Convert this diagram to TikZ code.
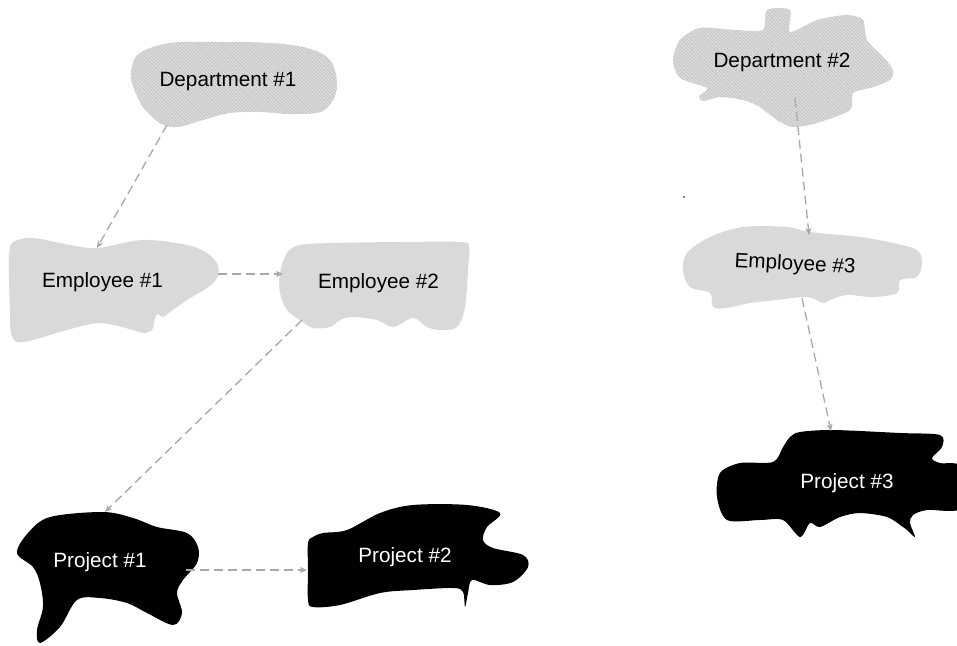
\documentclass[tikz,border=0pt]{standalone}
\usepackage{fontspec}
\setmainfont{Liberation Sans}
\usetikzlibrary{arrows.meta,patterns.meta}
\definecolor{hatchbg}{RGB}{222,222,222}
\definecolor{hatchln}{RGB}{196,196,196}
\definecolor{empgray}{RGB}{217,217,217}
\definecolor{conngray}{RGB}{168,168,168}
\tikzset{
  dept/.style={fill=hatchbg, postaction={pattern={Lines[angle=-45,distance=2.4pt,line width=0.9pt]}, pattern color=hatchln}},
  emp/.style={fill=empgray},
  proj/.style={fill=black},
  lbl/.style={font=\fontsize{20.7}{24}\selectfont, text=black, inner sep=0pt},
  wlbl/.style={lbl, text=white},
  conn/.style={draw=conngray, line width=1.3pt, dash pattern=on 9pt off 5pt, -{Stealth[length=7pt,width=6pt,inset=2pt]}},
}
\begin{document}
\begin{tikzpicture}[x=1pt,y=-1pt]
\useasboundingbox (0,0) rectangle (957,645);
\clip (0,0) rectangle (957,645);

% Department #1
\path[dept] plot[smooth cycle, tension=0.6] coordinates {
 (140,53) (170,43) (220,42) (270,43) (307,48) (330,60) (337,83) (333,100)
 (320,112) (290,114) (260,112) (230,113) (203,120) (177,127) (160,123)
 (143,107) (132,83) (132,67)};
\node[lbl] (d1) at (228,82) {Department \#1};

% Employee #1
\path[emp] plot[smooth cycle, tension=0.55] coordinates {
 (13,242) (33,238) (65,244) (97,248) (143,240) (187,245) (207,253) (218,265)
 (217,278) (207,288) (187,300) (170,312) (163,317) (158,314) (155,318)
 (152,330) (143,333) (133,330) (100,323) (67,330) (33,340) (17,342)
 (11,333) (10,313) (9,280) (9,255)};
\node[lbl] (e1) at (102.5,282) {Employee \#1};

% Employee #2
\path[emp] plot[smooth cycle, tension=0.55] coordinates {
 (287,253) (300,245) (333,243) (400,242) (460,242) (469,247) (468,270)
 (465,307) (457,327) (440,330) (427,327) (413,318) (393,327) (377,320)
 (353,317) (340,320) (330,327) (313,328) (300,320) (287,310) (280,293)
 (280,273)};
\node[lbl] (e2) at (378.5,283) {Employee \#2};

% Project #1
\path[proj] plot[smooth cycle, tension=0.55] coordinates {
 (17,553) (28,533) (50,517) (103,512) (133,518) (157,527) (187,533)
 (198,547) (197,563) (183,580) (177,593) (182,613) (173,625) (147,613)
 (127,603) (100,598) (77,600) (60,627) (40,643) (37,630) (43,607)
 (40,583) (33,567)};
\node[wlbl] (p1) at (100,562) {Project \#1};

% Project #2
\path[proj] plot[smooth cycle, tension=0.55] coordinates {
 (313,537) (323,533) (347,530) (380,513) (413,505) (467,505) (500,513)
 (487,527) (483,540) (493,548) (523,555) (528,567) (513,582) (490,585)
 (472,580) (468,593) (465,607) (463,592) (453,588) (413,590) (380,593)
 (340,605) (313,607) (308,600) (308,570) (308,543)};
\node[wlbl] (p2) at (405,557) {Project \#2};

% Department #2
\path[dept] plot[smooth cycle, tension=0.45] coordinates {
 (767,10) (790,10) (790,32) (817,20) (847,15) (863,20) (867,40) (883,57)
 (893,70) (890,80) (873,87) (853,93) (850,110) (817,123) (793,127)
 (777,120) (760,107) (743,100) (720,97) (703,101) (699,96) (707,88)
 (680,78) (673,60) (680,40) (700,28) (735,30) (763,30)};
\node[lbl] (d2) at (782,62) {Department \#2};

% Employee #3
\path[emp] plot[smooth cycle, tension=0.55] coordinates {
 (683,270) (687,253) (710,237) (743,227) (787,227) (810,232) (860,237)
 (893,243) (917,250) (922,263) (917,277) (900,280) (897,293) (873,297)
 (847,295) (830,300) (823,303) (807,297) (777,300) (750,303) (727,308)
 (713,307) (710,293) (690,287)};
\node[lbl, rotate=-3] (e3) at (795,265) {Employee \#3};

% Project #3
\path[proj] plot[smooth cycle, tension=0.5] coordinates {
 (790,437) (800,432) (833,430) (900,433) (940,435) (942,447) (932,458)
 (940,463) (962,467) (962,508) (927,510) (913,515) (910,523) (915,537)
 (907,530) (903,527) (887,517) (860,513) (840,517) (820,527) (810,523)
 (800,537) (783,520) (760,520) (727,520) (717,497) (720,473) (740,463)
 (773,462) (783,447)};
\node[wlbl] (p3) at (847,483) {Project \#3};

% stray dot
\fill (684,197) circle (0.9);

% connector end points
\coordinate (d1o) at (167,125);
\coordinate (e1i) at (97,248);
\coordinate (e1o) at (218,274);
\coordinate (e2i) at (283,274);
\coordinate (e2o) at (302,320);
\coordinate (p1i) at (105,512);
\coordinate (p1o) at (186,570);
\coordinate (p2i) at (307,570);
\coordinate (d2o) at (795,98);
\coordinate (e3i) at (809,235);
\coordinate (e3o) at (802,298);
\coordinate (p3i) at (831,431);

\draw[conn] (d1o) -- (e1i);
\draw[conn] (e1o) -- (e2i);
\draw[conn] (e2o) -- (p1i);
\draw[conn] (p1o) -- (p2i);
\draw[conn] (d2o) -- (e3i);
\draw[conn] (e3o) -- (p3i);
\end{tikzpicture}
\end{document}
